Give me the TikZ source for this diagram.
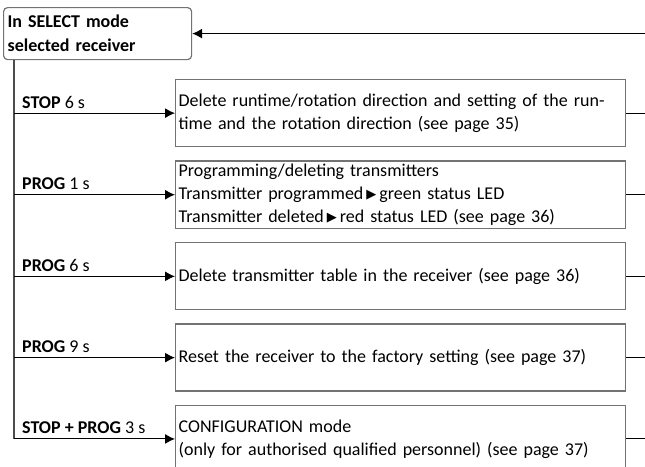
\documentclass[tikz,border=0pt]{standalone}
\usepackage{fontspec}
\setmainfont{Carlito}
\newfontfamily\symfont{DejaVu Sans}
\usetikzlibrary{arrows.meta,positioning}
\tikzset{
  % Mode box: rounded corners, bold title
  selbox/.style={draw=black!55, rectangle, rounded corners=4pt, line width=1.2pt,
                 text width=180pt, minimum height=52pt, inner sep=4pt, align=left,
                 font=\fontsize{18}{24}\selectfont\bfseries},
  % Action box: one per key combination
  actbox/.style={draw=black!55, rectangle, line width=1.3pt, text width=444pt,
                 minimum height=67pt, inner sep=3pt, align=left,
                 font=\fontsize{18}{23}\selectfont},
  % Key label sitting on a branch
  keylabel/.style={anchor=base west, inner sep=0pt, font=\fontsize{18}{23}\selectfont},
  % Connectors
  flowarr/.style={-{Latex[length=10pt,width=10pt]}, line width=1.1pt},
  flowline/.style={line width=1.1pt},
  trunkline/.style={line width=1.3pt, draw=black!70}
}
\newcommand{\ledarr}{{\symfont\fontsize{13}{13}\selectfont\raisebox{0.5pt}{▶}}}

\begin{document}
\begin{tikzpicture}[x=1pt, y=-1pt, node distance=13pt]
\useasboundingbox (0,0) rectangle (645,466);
\clip (0,0) rectangle (645,466);

% ============== MODE BOX AND TRUNK ==============
\node[selbox, anchor=north west] (sel) at (3,7) {In SELECT mode\\selected receiver};
\coordinate (trunk) at ([xshift=11pt]sel.south west);
\coordinate (edge) at (645,0);

% ============== ACTION BOXES ==============
\node[actbox, anchor=north west] (del) at (175,79)
  {Delete runtime/rotation direction and setting of the run-\\time and the rotation direction (see page 35)};
\node[actbox, below=of del] (prog)
  {Programming/deleting transmitters\\Transmitter programmed\,\ledarr\,green status LED\\Transmitter deleted\,\ledarr\,red status LED (see page 36)};
\node[actbox, below=of prog] (table) {Delete transmitter table in the receiver (see page 36)};
\node[actbox, below=of table] (reset) {Reset the receiver to the factory setting (see page 37)};
\node[actbox, below=of reset] (cfg)
  {CONFIGURATION mode\\(only for authorised qualified personnel) (see page 37)};

% ============== BRANCHES ==============
\draw[trunkline] (trunk) -- (trunk |- cfg.west);
\foreach \act in {del,prog,table,reset,cfg} {
  \draw[flowarr] (trunk |- \act.west) -- (\act.west);
  \draw[flowline] (\act.east) -- (\act.east -| edge);
}

% key labels above each branch
\node[keylabel] (kstop) at ([xshift=8pt,yshift=5pt]trunk |- del.west) {\textbf{STOP} 6 s};
\node[keylabel] (kprog1) at ([xshift=8pt,yshift=5pt]trunk |- prog.west) {\textbf{PROG} 1 s};
\node[keylabel] (kprog6) at ([xshift=8pt,yshift=5pt]trunk |- table.west) {\textbf{PROG} 6 s};
\node[keylabel] (kprog9) at ([xshift=8pt,yshift=5pt]trunk |- reset.west) {\textbf{PROG} 9 s};
\node[keylabel] (kboth) at ([xshift=8pt,yshift=5pt]trunk |- cfg.west) {\textbf{STOP + PROG} 3 s};

% ============== RETURN PATH ==============
\draw[flowarr] (sel.east -| edge) -- (sel.east);

\end{tikzpicture}
\end{document}
